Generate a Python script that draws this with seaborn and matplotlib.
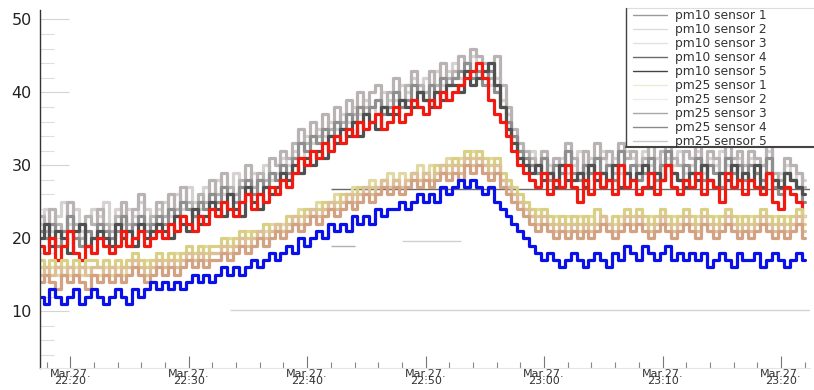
import numpy as np
import pandas as pd
import matplotlib
matplotlib.use('Agg')
import matplotlib.pyplot as plt
import matplotlib.dates as mdates
from matplotlib.patches import Rectangle
from matplotlib.lines import Line2D
import seaborn as sns

# sample times, one reading every 30 s
start_time = '2019-03-27 22:17:30'
n_points = 130

pm10_sensor_1 = [
    23, 21, 24, 22, 21, 25, 22, 20, 23, 22,
    24, 22, 21, 23, 25, 22, 24, 26, 22, 23,
    25, 23, 26, 24, 27, 25, 23, 26, 25, 28,
    26, 29, 27, 26, 28, 30, 27, 29, 28, 31,
    30, 32, 31, 33, 35, 33, 36, 34, 37, 35,
    38, 36, 39, 37, 40, 38, 40, 41, 38, 40,
    42, 39, 41, 43, 41, 40, 43, 41, 44, 42,
    43, 45, 44, 46, 45, 44, 42, 45, 41, 38,
    35, 33, 32, 31, 30, 32, 29, 31, 30, 33,
    31, 29, 32, 30, 33, 31, 32, 29, 33, 31,
    32, 30, 31, 33, 29, 32, 33, 31, 30, 32,
    31, 33, 30, 32, 31, 29, 33, 31, 32, 30,
    32, 31, 30, 33, 29, 28, 31, 30, 29, 27]
pm10_sensor_2 = [
    21, 20, 22, 19, 21, 23, 20, 19, 21, 20,
    22, 21, 20, 21, 23, 21, 22, 23, 21, 22,
    23, 22, 24, 23, 25, 24, 23, 25, 24, 26,
    25, 27, 26, 25, 27, 28, 26, 28, 27, 29,
    28, 30, 29, 31, 33, 32, 34, 33, 35, 34,
    36, 35, 37, 36, 38, 37, 38, 39, 37, 38,
    40, 38, 39, 41, 40, 39, 41, 40, 42, 41,
    42, 43, 44, 42, 43, 41, 43, 40, 38, 36,
    34, 32, 31, 30, 29, 31, 28, 30, 29, 32,
    29, 28, 30, 29, 31, 29, 30, 28, 32, 29,
    30, 28, 29, 31, 28, 30, 32, 29, 28, 30,
    29, 31, 28, 30, 29, 27, 31, 29, 30, 28,
    30, 29, 28, 31, 27, 26, 29, 28, 27, 25]
pm10_sensor_3 = [
    22, 24, 21, 23, 25, 22, 24, 21, 23, 24,
    23, 25, 22, 24, 22, 24, 23, 25, 24, 22,
    24, 25, 23, 26, 24, 27, 25, 24, 27, 26,
    28, 26, 27, 29, 27, 26, 29, 28, 30, 28,
    29, 31, 30, 32, 31, 34, 33, 35, 34, 36,
    35, 37, 36, 38, 37, 39, 38, 37, 40, 39,
    39, 41, 40, 42, 40, 42, 41, 43, 41, 43,
    44, 42, 43, 45, 44, 43, 41, 42, 39, 37,
    34, 32, 30, 32, 29, 31, 30, 28, 31, 29,
    30, 32, 29, 31, 28, 32, 30, 31, 29, 32,
    31, 29, 32, 30, 31, 28, 31, 30, 32, 29,
    30, 32, 29, 31, 30, 32, 30, 29, 31, 30,
    31, 29, 30, 32, 28, 29, 30, 28, 29, 28]
pm10_sensor_4 = [
    20, 22, 19, 21, 20, 18, 21, 22, 19, 20,
    21, 20, 19, 22, 20, 21, 19, 22, 20, 21,
    22, 21, 20, 23, 22, 21, 24, 22, 23, 25,
    24, 23, 26, 24, 23, 27, 25, 24, 27, 26,
    27, 29, 28, 30, 29, 31, 30, 32, 31, 34,
    33, 35, 34, 36, 34, 37, 36, 35, 38, 37,
    37, 39, 38, 38, 40, 39, 38, 40, 39, 41,
    41, 40, 43, 41, 42, 43, 44, 41, 38, 35,
    33, 31, 30, 29, 30, 28, 29, 27, 30, 28,
    28, 29, 27, 30, 28, 29, 28, 30, 27, 29,
    28, 29, 30, 27, 29, 28, 30, 29, 28, 27,
    29, 28, 30, 28, 27, 29, 28, 30, 28, 29,
    28, 30, 27, 29, 28, 27, 29, 28, 27, 26]
pm10_sensor_5 = [
    19, 18, 20, 17, 19, 21, 18, 17, 19, 18,
    20, 19, 18, 19, 21, 19, 20, 21, 19, 20,
    21, 20, 22, 21, 23, 22, 21, 23, 22, 24,
    23, 25, 24, 23, 25, 26, 24, 26, 25, 27,
    26, 28, 27, 29, 31, 30, 32, 31, 33, 32,
    34, 33, 35, 34, 36, 35, 36, 37, 35, 36,
    38, 36, 37, 39, 38, 37, 39, 38, 40, 39,
    40, 41, 42, 43, 44, 42, 39, 37, 36, 34,
    32, 30, 29, 28, 27, 29, 26, 28, 27, 30,
    27, 25, 28, 26, 29, 27, 28, 26, 30, 27,
    28, 26, 27, 29, 26, 28, 30, 27, 26, 28,
    27, 29, 26, 28, 27, 25, 29, 27, 28, 26,
    28, 27, 26, 29, 25, 24, 27, 26, 25, 23]
pm25_sensor_1 = [
    17, 16, 17, 16, 17, 16, 17, 16, 17, 17,
    16, 17, 16, 17, 16, 17, 18, 17, 16, 17,
    18, 17, 18, 17, 18, 19, 18, 19, 18, 19,
    19, 20, 19, 20, 21, 20, 21, 20, 22, 21,
    22, 21, 23, 22, 23, 24, 23, 24, 25, 24,
    25, 26, 25, 26, 27, 26, 27, 26, 28, 27,
    28, 27, 28, 29, 28, 29, 28, 30, 29, 30,
    31, 30, 32, 31, 32, 31, 30, 31, 29, 28,
    27, 26, 25, 24, 23, 24, 23, 22, 23, 22,
    23, 22, 23, 22, 24, 23, 22, 23, 22, 24,
    23, 24, 23, 22, 23, 24, 23, 22, 23, 24,
    23, 22, 24, 23, 22, 23, 24, 23, 22, 23,
    22, 23, 24, 23, 22, 23, 22, 23, 24, 22]
pm25_sensor_2 = [
    14, 15, 14, 13, 15, 14, 15, 14, 13, 15,
    14, 15, 14, 15, 14, 15, 16, 15, 14, 15,
    16, 15, 16, 15, 16, 17, 16, 17, 16, 17,
    17, 18, 17, 18, 19, 18, 19, 20, 19, 20,
    21, 20, 21, 22, 21, 22, 23, 22, 23, 24,
    23, 24, 25, 24, 25, 26, 25, 26, 27, 26,
    27, 26, 27, 28, 27, 28, 27, 28, 29, 28,
    29, 28, 30, 29, 30, 29, 28, 29, 27, 26,
    25, 24, 23, 22, 21, 22, 21, 20, 21, 20,
    21, 20, 21, 20, 21, 22, 21, 20, 21, 22,
    21, 22, 21, 20, 21, 22, 21, 20, 21, 22,
    21, 20, 22, 21, 20, 21, 22, 21, 20, 21,
    20, 21, 22, 21, 20, 21, 20, 21, 22, 20]
pm25_sensor_3 = [
    15, 16, 15, 16, 15, 16, 15, 16, 15, 16,
    16, 15, 16, 15, 16, 16, 17, 16, 15, 16,
    17, 16, 17, 16, 17, 18, 17, 18, 17, 18,
    18, 19, 18, 19, 20, 19, 20, 21, 20, 21,
    22, 21, 22, 23, 22, 23, 24, 23, 24, 25,
    24, 25, 26, 25, 26, 27, 26, 27, 28, 27,
    28, 27, 28, 29, 28, 29, 28, 29, 30, 29,
    30, 29, 31, 30, 31, 30, 29, 30, 28, 27,
    26, 25, 24, 23, 22, 23, 22, 21, 22, 21,
    22, 21, 22, 21, 22, 23, 22, 21, 22, 23,
    22, 23, 22, 21, 22, 23, 22, 21, 22, 23,
    22, 21, 23, 22, 21, 22, 23, 22, 21, 22,
    21, 22, 23, 22, 21, 22, 21, 22, 23, 21]
pm25_sensor_4 = [
    12, 11, 13, 12, 11, 12, 13, 11, 12, 13,
    12, 11, 12, 13, 12, 11, 13, 12, 13, 14,
    13, 14, 13, 14, 13, 14, 15, 14, 15, 14,
    15, 16, 15, 16, 15, 16, 17, 16, 17, 18,
    17, 18, 19, 18, 20, 19, 20, 21, 20, 22,
    21, 22, 21, 23, 22, 23, 22, 24, 23, 24,
    24, 25, 24, 25, 26, 25, 26, 25, 27, 26,
    27, 28, 27, 28, 27, 26, 27, 25, 24, 23,
    22, 21, 20, 19, 18, 17, 18, 17, 16, 17,
    18, 17, 16, 17, 18, 17, 16, 18, 17, 19,
    18, 17, 19, 18, 17, 18, 19, 17, 18, 17,
    18, 17, 18, 16, 17, 18, 17, 16, 18, 17,
    17, 18, 16, 17, 18, 17, 16, 17, 18, 17]
pm25_sensor_5 = [
    16, 15, 16, 15, 16, 15, 16, 15, 16, 15,
    15, 16, 15, 16, 15, 16, 17, 16, 17, 16,
    17, 16, 17, 18, 17, 18, 17, 18, 19, 18,
    18, 19, 20, 19, 20, 21, 20, 21, 21, 22,
    21, 22, 22, 23, 24, 23, 24, 25, 24, 25,
    26, 25, 26, 27, 26, 27, 28, 27, 28, 29,
    28, 29, 28, 29, 30, 29, 30, 29, 30, 31,
    30, 31, 31, 32, 31, 30, 31, 30, 28, 27,
    26, 25, 24, 23, 24, 23, 22, 23, 22, 23,
    22, 23, 22, 23, 22, 23, 22, 22, 23, 22,
    22, 23, 22, 23, 22, 23, 22, 23, 22, 22,
    22, 23, 22, 22, 23, 22, 23, 22, 23, 22,
    23, 22, 23, 22, 23, 22, 23, 22, 22, 23]

series_names = ['pm10 sensor 1', 'pm10 sensor 2', 'pm10 sensor 3', 'pm10 sensor 4', 'pm10 sensor 5',
                'pm25 sensor 1', 'pm25 sensor 2', 'pm25 sensor 3', 'pm25 sensor 4', 'pm25 sensor 5']
series_values = [pm10_sensor_1, pm10_sensor_2, pm10_sensor_3, pm10_sensor_4, pm10_sensor_5,
                 pm25_sensor_1, pm25_sensor_2, pm25_sensor_3, pm25_sensor_4, pm25_sensor_5]
line_colors = ['#b9b3b3', '#8f8f8f', '#d6d2d2', '#505050', '#f01a10',
               '#d9cf85', '#d2a282', '#dcc09a', '#0a10e8', '#e2d8a2']
legend_colors = ['#9a9a9a', '#dcdcdc', '#e2e2e2', '#6a6a6a', '#444444',
                 '#ecebd8', '#ececec', '#a8a8a8', '#8a8a8a', '#c8c8c8']
# drawing order (back to front)
draw_order = ['pm10 sensor 3', 'pm10 sensor 1', 'pm10 sensor 2', 'pm10 sensor 4', 'pm10 sensor 5',
              'pm25 sensor 5', 'pm25 sensor 1', 'pm25 sensor 3', 'pm25 sensor 2', 'pm25 sensor 4']

# flat segments visible in the picture: level, start, end
flat_levels = [10.1, 19.0, 19.6, 26.7]
flat_starts = ['22:33:30', '22:42:00', '22:48:00', '22:42:00']
flat_ends = ['23:22:30', '22:44:00', '22:53:00', '23:22:30']
flat_colors = ['#d4d4d4', '#b0b0b0', '#d0d0d0', '#6a6a6a']


def main():
    times = pd.date_range(start_time, periods=n_points, freq='30s')
    frames = []
    for name, vals in zip(series_names, series_values):
        frames.append(pd.DataFrame({'time': times, 'value': vals, 'sensor': name}))
    df = pd.concat(frames, ignore_index=True)

    sns.set_style('white')
    plt.rcParams['font.family'] = ['DejaVu Sans']

    fig = plt.figure(figsize=(8.14, 3.9), dpi=100)
    ax = fig.add_axes([40 / 814, 22 / 390, 770 / 814, 358 / 390])

    day = '2019-03-27 '
    for lvl, s, e, c in zip(flat_levels, flat_starts, flat_ends, flat_colors):
        ax.hlines(lvl, pd.Timestamp(day + s), pd.Timestamp(day + e), color=c, lw=1.0, zorder=1)

    palette = dict(zip(series_names, line_colors))
    sns.lineplot(data=df, x='time', y='value', hue='sensor', hue_order=draw_order,
                 palette=palette, estimator=None, drawstyle='steps-mid',
                 linewidth=2.3, legend=False, ax=ax, zorder=2)

    ax.set_xlim(pd.Timestamp(day + '22:17:27'), pd.Timestamp(day + '23:22:27'))
    ax.set_ylim(2.2, 51.3)
    ax.set_xlabel('')
    ax.set_ylabel('')

    ax.xaxis.set_major_locator(mdates.MinuteLocator(byminute=range(0, 60, 10)))
    ax.xaxis.set_minor_locator(mdates.MinuteLocator(byminute=range(0, 60, 2)))
    ax.xaxis.set_major_formatter(mdates.DateFormatter('Mar.27.\n%H:%M'))
    ax.yaxis.set_major_locator(plt.MultipleLocator(10))
    ax.yaxis.set_minor_locator(plt.MultipleLocator(2))

    ax.tick_params(axis='x', which='major', direction='in', length=9, width=0.8,
                   color='#777777', labelsize=8, labelcolor='#333333', pad=0.5)
    ax.tick_params(axis='x', which='minor', direction='in', length=4, width=0.8, color='#888888')
    ax.tick_params(axis='y', which='major', direction='in', length=21, width=0.8,
                   color='#d4d4d4', labelsize=11.5, labelcolor='#222222', pad=6)
    ax.tick_params(axis='y', which='minor', direction='in', length=10, width=0.8, color='#dddddd')
    ax.tick_params(bottom=True, left=True, which='both')
    plt.setp(ax.get_xticklabels(), linespacing=0.7)

    for side in ['top', 'right']:
        ax.spines[side].set_visible(False)
    ax.spines['left'].set_color('#333333')
    ax.spines['left'].set_linewidth(1.0)
    ax.spines['bottom'].set_color('#e4e4e4')
    ax.spines['bottom'].set_linewidth(0.8)

    # legend box
    fig.patches.append(Rectangle((626 / 814, 1 - 147 / 390), 200 / 814, 139 / 390,
                                 transform=fig.transFigure, facecolor='white',
                                 edgecolor='#dddddd', lw=0.8, zorder=5))
    fig.lines.append(Line2D([626 / 814, 626 / 814], [1 - 147 / 390, 1 - 8 / 390],
                            transform=fig.transFigure, color='#444444', lw=1.0, zorder=6))
    fig.lines.append(Line2D([626 / 814, 1.0], [1 - 147 / 390, 1 - 147 / 390],
                            transform=fig.transFigure, color='#444444', lw=1.5, zorder=6))
    handles = [Line2D([], [], color=c, lw=1.0) for c in legend_colors]
    leg = fig.legend(handles, series_names, loc='upper left',
                     bbox_to_anchor=(633 / 814, 1 - 9 / 390), frameon=False,
                     fontsize=8.8, handlelength=2.8, handletextpad=0.65,
                     labelspacing=0.08, borderpad=0, borderaxespad=0)
    leg.set_zorder(7)
    for t in leg.get_texts():
        t.set_color('#333333')

    fig.savefig('out.png', dpi=100)
    plt.close(fig)


if __name__ == '__main__':
    main()
